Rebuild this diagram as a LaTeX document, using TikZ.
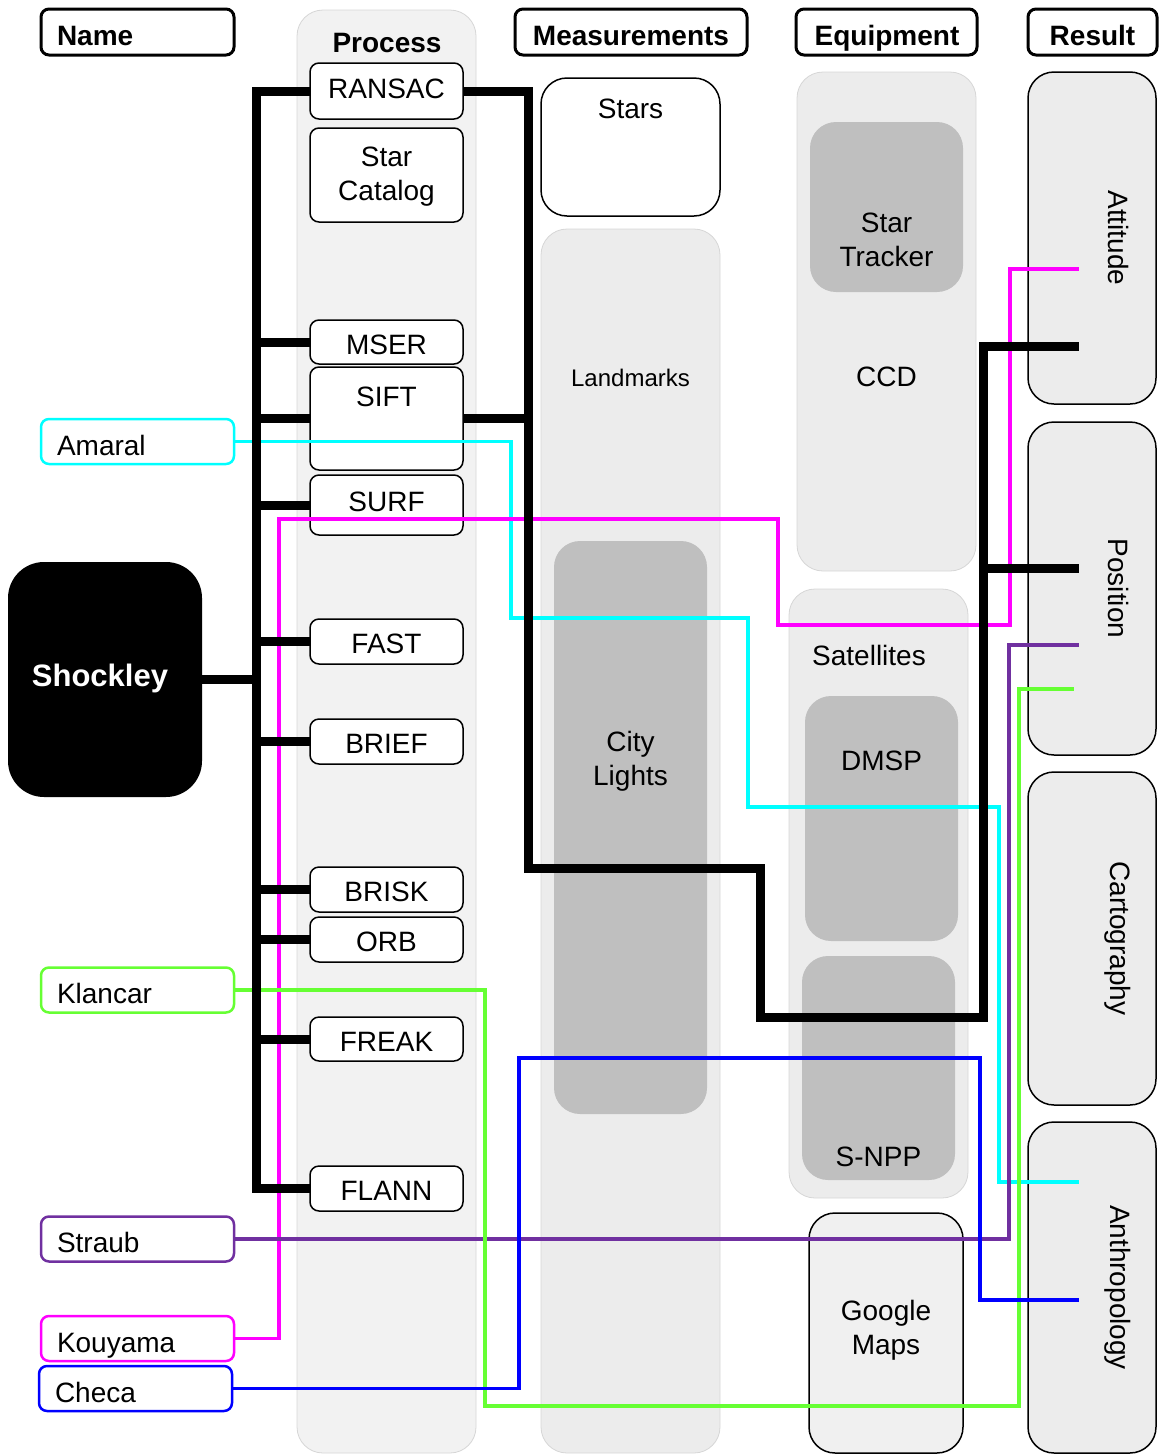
\documentclass[tikz,border=0pt]{standalone}
\usepackage{fontspec}
\setmainfont{Liberation Sans}
\definecolor{colbg}{HTML}{F2F2F2}
\definecolor{colbd}{HTML}{D6D6D6}
\definecolor{lightbg}{HTML}{ECECEC}
\definecolor{innergray}{HTML}{BFBFBF}
\definecolor{gmbg}{HTML}{F0F0F0}
\definecolor{cyanline}{HTML}{00FFFF}
\definecolor{magline}{HTML}{FF00FF}
\definecolor{purpline}{HTML}{7030A0}
\definecolor{greenline}{HTML}{66FF33}
\definecolor{blueline}{HTML}{0000FF}
\begin{document}
\begin{tikzpicture}[x=1pt,y=-1pt,
  every node/.style={inner sep=0pt, outer sep=0pt},
  txt/.style={font=\fontsize{28}{34}\selectfont, align=center},
  smalltxt/.style={font=\fontsize{24}{30}\selectfont, align=center},
  hdr/.style={draw=black, line width=3pt, rounded corners=8pt, fill=white, minimum height=46pt},
  hdrtxt/.style={font=\fontsize{28}{33}\selectfont\bfseries, anchor=base},
  procbox/.style={draw=black, line width=1.5pt, rounded corners=9pt, fill=white, minimum width=153pt, txt},
  colbox/.style={draw=colbd, line width=0.8pt, fill=colbg, rounded corners=26pt},
  lightbox/.style={draw=colbd, line width=0.8pt, fill=lightbg, rounded corners=26pt},
  graybox/.style={fill=innergray, rounded corners=26pt},
  resbox/.style={draw=black, line width=1.5pt, fill=lightbg, rounded corners=26pt, minimum width=128pt},
  namebox/.style={draw=#1, line width=2.5pt, rounded corners=8pt, fill=white, minimum width=193pt, minimum height=45pt},
  nametxt/.style={font=\fontsize{28}{34}\selectfont, anchor=base west},
  bus/.style={line width=9pt, draw=black},
  wire/.style={line width=3.5pt, draw=#1}
]
\useasboundingbox (0,0) rectangle (1159,1454);

% ---------- column backgrounds ----------
\node[colbox, minimum width=179pt, minimum height=1443pt] (proccol) at (386.5,731.5) {};
\node[hdrtxt] (proctxt) at (387,52) {Process};

% ---------- headers ----------
\node[hdr, minimum width=193pt] (hname) at (137.5,32) {};
\node[hdrtxt, anchor=base west] (hnamet) at (57,45) {Name};
\node[hdr, minimum width=232pt] (hmeas) at (631,32) {};
\node[hdrtxt] (hmeast) at (631,45) {Measurements};
\node[hdr, minimum width=181pt] (hequip) at (886.5,32) {};
\node[hdrtxt] (hequipt) at (887,45) {Equipment};
\node[hdr, minimum width=129pt] (hres) at (1092.5,32) {};
\node[hdrtxt] (hrest) at (1092.5,45) {Result};

% ---------- measurements ----------
\node[draw=black, line width=1.5pt, fill=white, rounded corners=26pt, minimum width=179pt, minimum height=138pt] (stars) at (630.5,147) {};
\node[txt] (starst) at (630.5,109) {Stars};
\node[lightbox, minimum width=179pt, minimum height=1224pt] (landmarks) at (630.5,841) {};
\node[smalltxt] (landmarkst) at (630.5,378) {Landmarks};
\node[graybox, minimum width=153pt, minimum height=573pt] (city) at (630.5,827.5) {};
\node[txt] (cityt) at (630.5,761) {City\\Lights};

% ---------- equipment ----------
\node[lightbox, minimum width=179pt, minimum height=499pt] (ccd) at (886.5,321.5) {};
\node[graybox, minimum width=153pt, minimum height=170pt] (tracker) at (886.5,207) {};
\node[txt] (trackert) at (886.5,240) {Star\\Tracker};
\node[txt] (ccdt) at (886.5,377) {CCD};
\node[lightbox, minimum width=179pt, minimum height=609pt] (sats) at (878.5,893.5) {};
\node[txt] (satst) at (869,655) {Satellites};
\node[graybox, minimum width=153pt, minimum height=245pt] (dmsp) at (881.5,818.5) {};
\node[txt] (dmspt) at (881.5,761) {DMSP};
\node[graybox, minimum width=153pt, minimum height=224pt] (snpp) at (878.5,1068) {};
\node[txt] (snppt) at (878.5,1157) {S-NPP};
\node[draw=black, line width=1.5pt, fill=gmbg, rounded corners=26pt, minimum width=154pt, minimum height=240pt] (gmaps) at (886,1333) {};
\node[txt] (gmapst) at (886,1330) {Google\\Maps};

% ---------- results ----------
\node[resbox, minimum height=332pt] (att) at (1092,238) {};
\node[txt, rotate=-90] (attt) at (1118,238) {Attitude};
\node[resbox, minimum height=333pt] (pos) at (1092,588.5) {};
\node[txt, rotate=-90] (post) at (1118,588.5) {Position};
\node[resbox, minimum height=333pt] (carto) at (1092,938.5) {};
\node[txt, rotate=-90] (cartot) at (1118,938.5) {Cartography};
\node[resbox, minimum height=331pt] (anthro) at (1092,1287.5) {};
\node[txt, rotate=-90] (anthrot) at (1118,1287.5) {Anthropology};

% ---------- process nodes ----------
\node[procbox, minimum height=56pt] (ransac) at (386.5,91) {};
\node[txt] (ransact) at (386.5,89) {RANSAC};
\node[procbox, minimum height=94pt] (starcat) at (386.5,175) {};
\node[txt] (starcatt) at (386.5,177) {Star\\Catalog};
\node[procbox, minimum height=44pt] (mser) at (386.5,342) {};
\node[txt] (msert) at (386.5,345) {MSER};
\node[procbox, minimum height=103pt] (sift) at (386.5,418.5) {};
\node[txt] (siftt) at (386.5,397) {SIFT};
\node[procbox, minimum height=60pt] (surf) at (386.5,505) {};
\node[txt] (surft) at (386.5,502) {SURF};
\node[procbox, minimum height=45pt] (fast) at (386.5,641.5) {};
\node[txt] (fastt) at (386.5,644) {FAST};
\node[procbox, minimum height=45pt] (brief) at (386.5,741.5) {};
\node[txt] (brieft) at (386.5,744) {BRIEF};
\node[procbox, minimum height=45pt] (brisk) at (386.5,889.5) {};
\node[txt] (briskt) at (386.5,892) {BRISK};
\node[procbox, minimum height=45pt] (orb) at (386.5,939.5) {};
\node[txt] (orbt) at (386.5,942) {ORB};
\node[procbox, minimum height=44pt] (freak) at (386.5,1039) {};
\node[txt] (freakt) at (386.5,1042) {FREAK};
\node[procbox, minimum height=45pt] (flann) at (386.5,1188.5) {};
\node[txt] (flannt) at (386.5,1191) {FLANN};

% ---------- Shockley ----------
\node[fill=black, rounded corners=36pt, minimum width=194pt, minimum height=235pt] (shockley) at (105,679.5) {};
\node[font=\fontsize{31}{36}\selectfont\bfseries, text=white, anchor=base] (shockleyt) at (100,686) {Shockley};

% ---------- name boxes ----------
\node[namebox=cyanline] (amaral) at (137.5,441.5) {};
\node[nametxt] (amaralt) at (57,455) {Amaral};
\node[namebox=greenline] (klancar) at (137.5,990) {};
\node[nametxt] (klancart) at (57,1003.5) {Klancar};
\node[namebox=purpline] (straub) at (137.5,1239) {};
\node[nametxt] (straubt) at (57,1252.5) {Straub};
\node[namebox=magline] (kouyama) at (137.5,1338.5) {};
\node[nametxt] (kouyamat) at (57,1352) {Kouyama};
\node[namebox=blueline] (checa) at (135.5,1388.5) {};
\node[nametxt] (checat) at (55,1402) {Checa};

% ---------- end coordinates ----------
\coordinate (eMag) at (1079,269);
\coordinate (eAttB) at (1079,346);
\coordinate (ePosB) at (1079,568);
\coordinate (ePur) at (1079,645);
\coordinate (eGrn) at (1074,689);
\coordinate (eCya) at (1079,1182);
\coordinate (eBlu) at (1079,1300);
\coordinate (jB) at (983,568);

% ---------- colored wires ----------
\draw[wire=cyanline] (amaral.east) -| (511,618) -| (748,807) -| (999,1182) -- (eCya);
\draw[wire=magline] (kouyama.east) -| (279,519) -| (778,625) -| (1010,269) -- (eMag);
\draw[wire=purpline] (straub.east) -| (1009,645) -- (ePur);
\draw[wire=greenline] (klancar.east) -| (485,1406) -| (1019,689) -- (eGrn);
\draw[wire=blueline] (checa.east) -| (519,1058) -| (980,1300) -- (eBlu);

% ---------- black bus ----------
\draw[bus] (ransac.west) -| (256,1188.5) -- (flann.west);
\draw[bus] (mser.west) -- ++(-54,0);
\draw[bus] (sift.west) -- ++(-54,0);
\draw[bus] (surf.west) -- ++(-54,0);
\draw[bus] (fast.west) -- ++(-54,0);
\draw[bus] (brief.west) -- ++(-54,0);
\draw[bus] (brisk.west) -- ++(-54,0);
\draw[bus] (orb.west) -- ++(-54,0);
\draw[bus] (freak.west) -- ++(-54,0);
\draw[bus] (shockley.east) -- (256,679.5);
\draw[bus] (ransac.east) -| (528,868) -| (760,1017) -| (983,346) -- (eAttB);
\draw[bus] (sift.east) -- (528,418.5);
\draw[bus] (jB) -- (ePosB);
\end{tikzpicture}
\end{document}
